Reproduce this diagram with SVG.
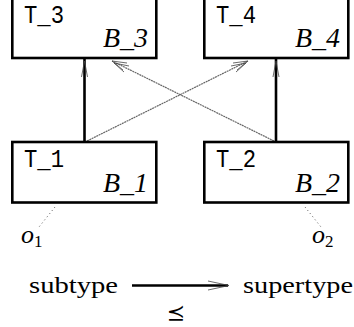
<svg xmlns="http://www.w3.org/2000/svg" width="354" height="327" viewBox="0 0 354 327">
<defs>
<style>
.box{fill:#fff;stroke:#000;stroke-width:2.6}
.tt{font-family:"Liberation Mono",monospace;font-size:25px;fill:#000}
.bb{font-family:"Liberation Serif",serif;font-style:italic;font-size:28px;fill:#000}
.oo{font-family:"Liberation Serif",serif;font-style:italic;font-size:26px;fill:#000}
.rm{font-family:"Liberation Serif",serif;font-size:23px;fill:#000}
.thick{stroke:#000;stroke-width:2.6;fill:none}
.thin{stroke:#666;stroke-width:1.2;fill:none;stroke-dasharray:2 0.6}
.head{stroke:#444;stroke-width:0.8;fill:none}
.dot{stroke:#555;stroke-width:1;stroke-dasharray:1 3;fill:none}
</style>
</defs>
<rect width="354" height="327" fill="#fff"/>
<g id="connectors">
<line class="thick" x1="84.5" y1="142" x2="84.5" y2="58"/>
<path class="head" d="M81.5,77 L84.5,61 L87.5,77"/>
<line class="thick" x1="276" y1="142" x2="276" y2="58"/>
<path class="head" d="M273,77 L276,61 L279,77"/>
<line class="thin" x1="87" y1="141" x2="248" y2="61"/>
<path class="head" d="M233,63 L248,61 L237,70 M231,66 L246,63 L236,72"/>
<line class="thin" x1="274" y1="141" x2="112" y2="61"/>
<path class="head" d="M127,63 L112,61 L123,70 M129,66 L114,63 L124,72"/>
<line class="dot" x1="55" y1="207" x2="39" y2="227"/>
<line class="dot" x1="305" y1="207" x2="321" y2="227"/>
<line class="thick" x1="132" y1="285.5" x2="228" y2="285.5"/>
<path class="head" d="M208,281 L229,285.5 L208,290"/>
</g>
<g id="T3">
<rect class="box" x="12.3" y="-3" width="144" height="61"/>
<text class="tt" x="24" y="22.5" textLength="40" lengthAdjust="spacingAndGlyphs">T_3</text>
<text class="bb" x="103" y="47" textLength="45" lengthAdjust="spacingAndGlyphs">B_3</text>
</g>
<g id="T4">
<rect class="box" x="204.3" y="-3" width="144" height="61"/>
<text class="tt" x="216" y="22.5" textLength="40" lengthAdjust="spacingAndGlyphs">T_4</text>
<text class="bb" x="295" y="47" textLength="45" lengthAdjust="spacingAndGlyphs">B_4</text>
</g>
<g id="T1">
<rect class="box" x="12.3" y="142" width="144" height="60.5"/>
<text class="tt" x="24" y="167" textLength="40" lengthAdjust="spacingAndGlyphs">T_1</text>
<text class="bb" x="103" y="191.5" textLength="45" lengthAdjust="spacingAndGlyphs">B_1</text>
</g>
<g id="T2">
<rect class="box" x="204.3" y="142" width="144" height="60.5"/>
<text class="tt" x="216" y="167" textLength="40" lengthAdjust="spacingAndGlyphs">T_2</text>
<text class="bb" x="295" y="191.5" textLength="45" lengthAdjust="spacingAndGlyphs">B_2</text>
</g>
<g id="o1">
<text class="oo" x="21" y="243">o<tspan font-style="normal" font-size="17" dy="4">1</tspan></text>
</g>
<g id="o2">
<text class="oo" x="312" y="243">o<tspan font-style="normal" font-size="17" dy="4">2</tspan></text>
</g>
<g id="legend">
<text class="rm" x="29" y="293" textLength="89" lengthAdjust="spacingAndGlyphs">subtype</text>
<text class="rm" x="243" y="293" textLength="110" lengthAdjust="spacingAndGlyphs">supertype</text>
<text x="176" y="320" text-anchor="middle" font-family="'DejaVu Sans',sans-serif" font-size="22">⪯</text>
</g>
</svg>
